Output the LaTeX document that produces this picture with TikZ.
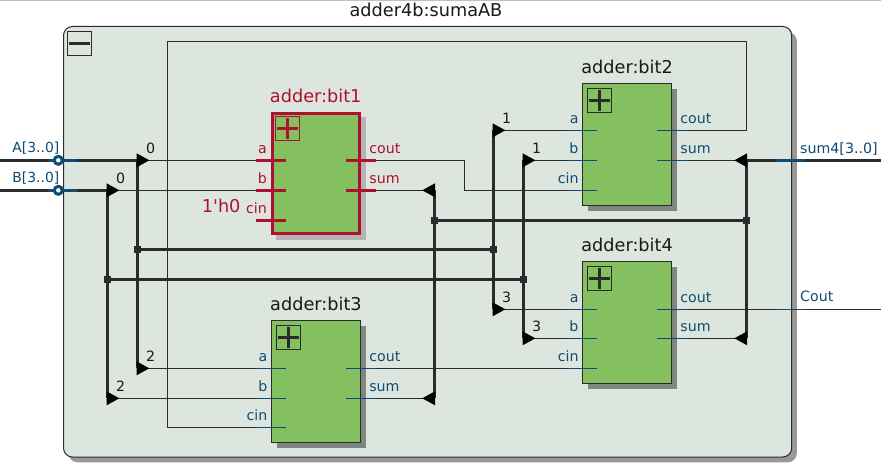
\documentclass[tikz,border=0pt]{standalone}
\usepackage{fontspec}
\setmainfont{DejaVu Sans}
\newfontfamily\plainfont{DejaVu Sans}
\definecolor{mainfill}{HTML}{DDE6DE}
\definecolor{mainshadow}{HTML}{999999}
\definecolor{greenfill}{HTML}{84C060}
\definecolor{wirecol}{HTML}{2B2B2B}
\definecolor{bluecol}{HTML}{0F4C75}
\definecolor{redcol}{HTML}{B0102F}
\definecolor{shadownorm}{HTML}{7F887F}
\definecolor{shadowred}{HTML}{B4B4B4}
\tikzset{
  txtsmall/.style={font=\fontsize{14.2}{16}\selectfont,inner sep=0pt},
  txtbig/.style={font=\fontsize{17.7}{20}\selectfont,inner sep=0pt},
  thin wire/.style={draw=wirecol,line width=1.1pt},
  bus/.style={draw=wirecol,line width=3pt},
  lblcol-norm/.style={color=bluecol},
  ttlcol-norm/.style={color=black!90},
  boxst-norm/.style={draw=wirecol,line width=1.1pt,fill=greenfill},
  pinst-norm/.style={draw=bluecol,line width=1.1pt},
  shd-norm/.style={fill=shadownorm},
  btn-norm/.style={draw=wirecol,line width=1pt},
  plus-norm/.style={draw=wirecol,line width=3pt},
  lblcol-red/.style={color=redcol},
  ttlcol-red/.style={color=redcol},
  boxst-red/.style={fill=greenfill},
  pinst-red/.style={draw=redcol,line width=2.6pt},
  shd-red/.style={fill=shadowred},
  btn-red/.style={draw=redcol,line width=1pt},
  plus-red/.style={draw=redcol,line width=3pt},
  junction/.style={fill=wirecol,draw=none,minimum size=7pt,inner sep=0pt,rectangle},
  portlabel/.style={font=\fontsize{14.2}{16}\selectfont,color=bluecol,inner sep=0pt},
  portlabel narrow/.style={font=\fontsize{13.9}{16}\selectfont,color=bluecol,inner sep=0pt},
  portring/.style={draw=bluecol,line width=3pt,fill=white},
}
% name, x-left, y-top, y of a, y of b, y of cin, variant, width
\newcommand\addblk[8]{%
  \fill[shd-#7] (#2+5.5,#3+5.5) rectangle (#2+#8+5.5,#3+122.2+5.5);
  \node[boxst-#7,rectangle,anchor=north west,minimum width=#8pt,minimum height=122.2pt,inner sep=0pt,outer sep=0pt] (#1) at (#2,#3) {};
  \node[ttlcol-#7,txtbig,anchor=base] (#1-title) at (#2+#8/2,#3-9.7) {adder:#1};
  \node[btn-#7,rectangle,anchor=north west,minimum size=24pt,inner sep=0pt,outer sep=0pt] (#1-btn) at (#2+4.7,#3+5) {};
  \draw[plus-#7] (#2+6.2,#3+17) -- (#2+27.2,#3+17);
  \draw[plus-#7] (#2+16.7,#3+6.5) -- (#2+16.7,#3+27.5);
  \coordinate (#1-aout) at (#2-15,#4);
  \coordinate (#1-bout) at (#2-15,#5);
  \coordinate (#1-cout) at (#2-15,#6);
  \coordinate (#1-coout) at (#2+#8+15,#4);
  \coordinate (#1-suout) at (#2+#8+15,#5);
  \draw[pinst-#7] (#1-aout) -- (#2+15,#4);
  \draw[pinst-#7] (#1-bout) -- (#2+15,#5);
  \draw[pinst-#7] (#1-cout) -- (#2+15,#6);
  \draw[pinst-#7] (#1-coout) -- (#2+#8-15,#4);
  \draw[pinst-#7] (#1-suout) -- (#2+#8-15,#5);
  \node[lblcol-#7,txtsmall,anchor=base east] (#1-la) at (#2-3.7,#4-6.7) {a};
  \node[lblcol-#7,txtsmall,anchor=base east] (#1-lb) at (#2-3.7,#5-6.7) {b};
  \node[lblcol-#7,txtsmall,anchor=base east] (#1-lc) at (#2-3.7,#6-6.7) {cin};
  \node[lblcol-#7,txtsmall,anchor=base west] (#1-lco) at (#2+#8+8.5,#4-6.7) {cout};
  \node[lblcol-#7,txtsmall,anchor=base west] (#1-ls) at (#2+#8+8.5,#5-6.7) {sum};
}
% bus tap: name, bus x, y, direction (+1 right, -1 left)
\newcommand\tap[4]{%
  \coordinate (#1) at (#2,#3);
  \coordinate (#1-tip) at (#2+#4*12,#3);
}
\newcommand\taphead[2]{%
  \fill[black] ([shift={({-0.7*(#2)},-7)}]#1) -- (#1-tip) -- ([shift={({-0.7*(#2)},7)}]#1) -- cycle;
}
\begin{document}
\begin{tikzpicture}[x=1pt,y=-1pt]
\useasboundingbox (0,0) rectangle (881,476);
\fill[white] (0,0) rectangle (881,476);
\draw[line width=1pt,color=black!25] (0,0.5) -- (881,0.5);
% frame
\fill[mainshadow,rounded corners=9pt] (68.5,32) rectangle (796.8,462.3);
\draw[fill=mainfill,draw=wirecol,line width=1pt,rounded corners=9pt] (63.5,26.5) rectangle (791.7,457);
\node[txtbig,anchor=base,color=black!90] (title) at (426,16.5) {adder4b:sumaAB};
\node[draw=wirecol,line width=1pt,rectangle,anchor=north west,minimum size=24.2pt,inner sep=0pt,outer sep=0pt] (collapse) at (67.4,31.4) {};
\draw[wirecol,line width=3pt] (69,43.4) -- (90,43.4);
% blocks
\addblk{bit1}{270.7}{112}{160.3}{190.3}{220.3}{red}{90}
\draw[redcol,line width=3pt] (272.2,113.5) rectangle (359.2,233.5);
\addblk{bit2}{582.4}{83.3}{130.3}{160.3}{190.3}{norm}{89.3}
\addblk{bit3}{271.3}{320.3}{368.3}{398.3}{427.3}{norm}{89.3}
\addblk{bit4}{582.4}{261.3}{309.3}{338.3}{368.3}{norm}{89.3}
\node[color=redcol,font=\plainfont\fontsize{17.7}{20}\selectfont,inner sep=0pt,anchor=base east] (const) at (240.7,212) {1'h0};
% tap points
\tap{tA0}{137.3}{160.3}{1}
\tap{tB0}{107.3}{190.3}{1}
\tap{tA2}{137.3}{368.3}{1}
\tap{tB2}{107.3}{398.3}{1}
\tap{tA1}{493.3}{130.3}{1}
\tap{tB1}{523.3}{160.3}{1}
\tap{tA3}{493.3}{309.3}{1}
\tap{tB3}{523.3}{338.3}{1}
\tap{tS0}{434.3}{190.3}{-1}
\tap{tS2}{434.3}{398.3}{-1}
\tap{tS1}{746.4}{160.3}{-1}
\tap{tS3}{746.4}{338.3}{-1}
% junctions and free ends
\coordinate (jA) at (137.3,249.3);
\coordinate (jA2) at (493.3,249.3);
\coordinate (jB) at (107.3,279.3);
\coordinate (jB2) at (523.3,279.3);
\coordinate (jS) at (434.3,220.3);
\coordinate (jS2) at (746.4,220.3);
\coordinate (inA) at (0,160.3);
\coordinate (inB) at (0,190.3);
\coordinate (outS) at (881,160.3);
\coordinate (outC) at (881,309.3);
\coordinate (loopR) at (746.4,41.3);
\coordinate (loopL) at (167.3,41.3);
\coordinate (kink) at (464.4,175);
% thin wires
\draw[thin wire] (tA0) -- (bit1-aout);
\draw[thin wire] (tB0) -- (bit1-bout);
\draw[thin wire] (tA2) -- (bit3-aout);
\draw[thin wire] (tB2) -- (bit3-bout);
\draw[thin wire] (tA1) -- (bit2-aout);
\draw[thin wire] (tB1) -- (bit2-bout);
\draw[thin wire] (tA3) -- (bit4-aout);
\draw[thin wire] (tB3) -- (bit4-bout);
\draw[thin wire] (bit1-suout) -- (tS0);
\draw[thin wire] (bit3-suout) -- (tS2);
\draw[thin wire] (bit2-suout) -- (tS1);
\draw[thin wire] (bit4-suout) -- (tS3);
\draw[thin wire] (bit1-coout) -| (kink) |- (bit2-cout);
\draw[thin wire] (bit3-coout) -- (bit4-cout);
\draw[thin wire] (bit4-coout) -- (outC);
\draw[thin wire] (bit2-coout) -| (loopR) -- (loopL) |- (bit3-cout);
% buses
\draw[bus] (inA) -- (tA0);
\draw[bus] (inB) -- (tB0);
\draw[bus] (outS) -- (tS1);
\draw[bus] (tA0) -- (tA2);
\draw[bus] (tB0) -- (tB2);
\draw[bus] (tA1) -- (tA3);
\draw[bus] (tB1) -- (tB3);
\draw[bus] (tS0) -- (tS2);
\draw[bus] (tS1) -- (tS3);
\draw[bus] (jA) -- (jA2);
\draw[bus] (jB) -- (jB2);
\draw[bus] (jS) -- (jS2);
\foreach \j in {jA,jA2,jB,jB2,jS,jS2} {\node[junction] (n\j) at (\j) {};}
% tap heads
\foreach \tp in {tA0,tB0,tA2,tB2,tA1,tB1,tA3,tB3} {\taphead{\tp}{1}}
\foreach \tp in {tS0,tS2,tS1,tS3} {\taphead{\tp}{-1}}
% bit numbers
\foreach \nm/\tx/\xx/\yy in {n0/0/150.7/153.5,n1/0/120.7/183.5,n2/2/150.7/361.5,n3/2/120.7/391.5,n4/1/506.7/123.5,n5/1/536.7/153.5,n6/3/506.7/302.5,n7/3/536.7/331.5}
  {\node[txtsmall,anchor=base,color=black!90] (\nm) at (\xx,\yy) {\tx};}
% ports
\draw[bluecol,line width=3pt] (48,160.3) -- (77,160.3);
\draw[bluecol,line width=3pt] (48,190.3) -- (77,190.3);
\draw[bluecol,line width=3pt] (776,160.3) -- (805,160.3);
\draw[bluecol,line width=1.1pt] (776,309.3) -- (805,309.3);
\draw[portring] (58.3,160.3) circle (4);
\draw[portring] (58.3,190.3) circle (4);
\node[portlabel narrow,anchor=base east] (pA) at (59.5,152.3) {A[3..0]};
\node[portlabel narrow,anchor=base east] (pB) at (59.5,182.3) {B[3..0]};
\node[portlabel,anchor=base west] (pS) at (800,153.3) {sum4[3..0]};
\node[portlabel,anchor=base west] (pC) at (800,301.8) {Cout};
\end{tikzpicture}
\end{document}
